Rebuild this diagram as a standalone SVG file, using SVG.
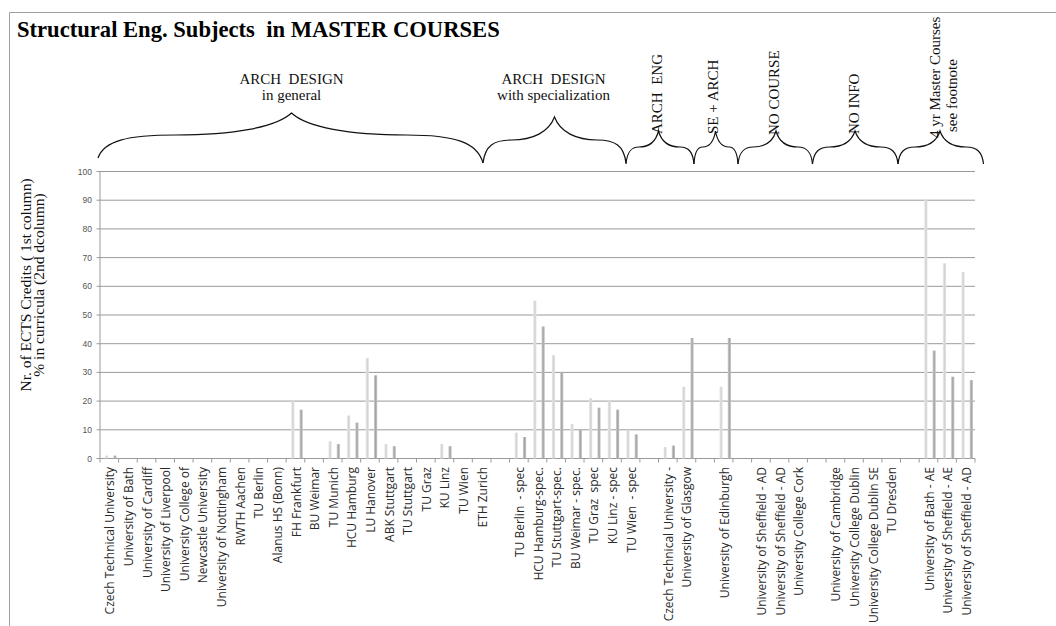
<svg xmlns="http://www.w3.org/2000/svg" width="1056" height="626" viewBox="0 0 1056 626">
<defs>
<linearGradient id="gA" x1="0" y1="0" x2="1" y2="0">
<stop offset="0" stop-color="#eeeeee"/><stop offset="0.5" stop-color="#d2d2d2"/><stop offset="1" stop-color="#e4e4e4"/>
</linearGradient>
<linearGradient id="gB" x1="0" y1="0" x2="1" y2="0">
<stop offset="0" stop-color="#d4d4d4"/><stop offset="0.5" stop-color="#a4a4a4"/><stop offset="1" stop-color="#c4c4c4"/>
</linearGradient>
</defs>
<style>
.title{font-family:"Liberation Serif","Times New Roman",serif;font-weight:bold;font-size:22.6px;fill:#000;white-space:pre}
.grp{font-family:"Liberation Serif","Times New Roman",serif;font-size:15px;fill:#111}
.yt{font-family:"Liberation Serif","Times New Roman",serif;font-size:15.5px;fill:#111}
.tick{font-family:"Liberation Sans",Arial,sans-serif;font-size:8.5px;fill:#555}
.xl{font-family:"Open Sans","Liberation Sans",sans-serif;font-size:12px;fill:#2a2a2a;white-space:pre}
.grid{stroke:#9a9a9a;stroke-width:1;fill:none}
.brace{stroke:#111;stroke-width:1.2;fill:none}
.b1{fill:url(#gA)}
.b2{fill:url(#gB)}
</style>
<rect x="0" y="0" width="1056" height="626" fill="#fff"/>
<path d="M9.5 626 V12.5 H1056" stroke="#a0a0a0" stroke-width="1" fill="none"/>
<text class="title" x="17" y="36.5">Structural Eng. Subjects  in MASTER COURSES</text>

<g id="connectors">
<path class="brace" d="M98 158 C103.8 140.8 127 135 175.4 135 C233.5 135 276 127.3 291.5 113 C306.8 127.3 349 135 406.4 135 C454.3 135 477.3 142 483 163"/>
<path class="brace" d="M483 163 C485.1 145.75 493.7 140 511.6 140 C533 140 548.8 132 554.5 117 C560.2 132 576 140 597.4 140 C615.3 140 623.9 145.75 626 163"/>
<path class="brace" d="M626 164 C627 152 630.9 147 639 147 C648.8 147 655.9 141.4 658.5 131 C661.3 141.4 669.2 147 679.8 147 C688.7 147 692.9 152 694 164"/>
<path class="brace" d="M694 164 C694.6 152 697.2 147 702.6 147 C709 147 713.8 141.4 715.5 131 C717.3 141.4 722.25 147 729 147 C734.6 147 737.3 152 738 164"/>
<path class="brace" d="M738 164 C739.1 152 743.7 147 753.2 147 C764.6 147 773 141.4 776 131 C778.9 141.4 786.95 147 797.9 147 C807 147 811.4 152 812.5 164"/>
<path class="brace" d="M812.5 164 C813.8 152 818.9 147 829.5 147 C842.25 147 851.6 141.4 855 131 C858.4 141.4 867.9 147 880.8 147 C891.55 147 896.7 152 898 164"/>
<path class="brace" d="M898 164 C899.3 152 904.3 147 914.8 147 C927.4 147 936.6 141.4 940 131 C943.5 141.4 953.05 147 966.1 147 C977 147 982.2 152 983.5 164"/>
</g>

<g id="group-arch-general">
<text class="grp" x="291.5" y="83.5" text-anchor="middle" style="white-space:pre">ARCH  DESIGN</text>
<text class="grp" x="291.5" y="100" text-anchor="middle">in general</text>
</g>
<g id="group-arch-spec">
<text class="grp" x="553.5" y="83.5" text-anchor="middle" style="white-space:pre">ARCH  DESIGN</text>
<text class="grp" x="553.5" y="100" text-anchor="middle">with specialization</text>
</g>
<g id="group-arch-eng"><text class="grp" transform="translate(661.5,134) rotate(-90)" style="white-space:pre">ARCH  ENG</text></g>
<g id="group-se-arch"><text class="grp" transform="translate(718,134) rotate(-90)">SE + ARCH</text></g>
<g id="group-no-course"><text class="grp" transform="translate(779,135) rotate(-90)">NO COURSE</text></g>
<g id="group-no-info"><text class="grp" transform="translate(859,134) rotate(-90)">NO INFO</text></g>
<g id="group-4yr">
<text class="grp" transform="translate(939.5,138) rotate(-90)">4 yr Master Courses</text>
<text class="grp" transform="translate(957,132) rotate(-90)">see footnote</text>
</g>

<g id="yaxis-title">
<text class="yt" transform="translate(31,285) rotate(-90)" text-anchor="middle">Nr. of ECTS Credits ( 1st column)</text>
<text class="yt" transform="translate(43.5,285) rotate(-90)" text-anchor="middle">% in curricula (2nd dcolumn)</text>
</g>

<g id="grid">
<path class="grid" d="M100 171.5H975 M100 200.2H975 M100 228.9H975 M100 257.6H975 M100 286.3H975 M100 315H975 M100 343.7H975 M100 372.4H975 M100 401.1H975 M100 429.8H975 M100 458.5H975"/>
<path class="grid" d="M100 171.5V458.5 M96.5 171.5H100 M96.5 200.2H100 M96.5 228.9H100 M96.5 257.6H100 M96.5 286.3H100 M96.5 315H100 M96.5 343.7H100 M96.5 372.4H100 M96.5 401.1H100 M96.5 429.8H100 M96.5 458.5H100"/>
<path class="grid" d="M100 458.5v4 M118.62 458.5v4 M137.23 458.5v4 M155.85 458.5v4 M174.47 458.5v4 M193.09 458.5v4 M211.7 458.5v4 M230.32 458.5v4 M248.94 458.5v4 M267.55 458.5v4 M286.17 458.5v4 M304.79 458.5v4 M323.4 458.5v4 M342.02 458.5v4 M360.64 458.5v4 M379.26 458.5v4 M397.87 458.5v4 M416.49 458.5v4 M435.11 458.5v4 M453.72 458.5v4 M472.34 458.5v4 M490.96 458.5v4 M509.57 458.5v4 M528.19 458.5v4 M546.81 458.5v4 M565.43 458.5v4 M584.04 458.5v4 M602.66 458.5v4 M621.28 458.5v4 M639.89 458.5v4 M658.51 458.5v4 M677.13 458.5v4 M695.74 458.5v4 M714.36 458.5v4 M732.98 458.5v4 M751.6 458.5v4 M770.21 458.5v4 M788.83 458.5v4 M807.45 458.5v4 M826.06 458.5v4 M844.68 458.5v4 M863.3 458.5v4 M881.91 458.5v4 M900.53 458.5v4 M919.15 458.5v4 M937.77 458.5v4 M956.38 458.5v4 M975 458.5v4"/>
</g>

<g id="ytick-labels" text-anchor="end">
<text class="tick" x="92" y="174.5">100</text>
<text class="tick" x="92" y="203.2">90</text>
<text class="tick" x="92" y="231.9">80</text>
<text class="tick" x="92" y="260.6">70</text>
<text class="tick" x="92" y="289.3">60</text>
<text class="tick" x="92" y="318">50</text>
<text class="tick" x="92" y="346.7">40</text>
<text class="tick" x="92" y="375.4">30</text>
<text class="tick" x="92" y="404.1">20</text>
<text class="tick" x="92" y="432.8">10</text>
<text class="tick" x="92" y="461.5">0</text>
</g>

<g id="bars">
<rect class="b1" x="105" y="455.6" width="3.2" height="2.9"/><rect class="b2" x="113.3" y="455.6" width="3.2" height="2.9"/>
<rect class="b1" x="291.2" y="401.1" width="3.2" height="57.4"/><rect class="b2" x="299.5" y="409.7" width="3.2" height="48.8"/>
<rect class="b1" x="328.4" y="441.3" width="3.2" height="17.2"/><rect class="b2" x="336.7" y="444.15" width="3.2" height="14.35"/>
<rect class="b1" x="347" y="415.45" width="3.2" height="43.05"/><rect class="b2" x="355.3" y="422.6" width="3.2" height="35.9"/>
<rect class="b1" x="365.65" y="358.05" width="3.2" height="100.45"/><rect class="b2" x="373.95" y="375.3" width="3.2" height="83.2"/>
<rect class="b1" x="384.3" y="444.15" width="3.2" height="14.35"/><rect class="b2" x="392.6" y="446.2" width="3.2" height="12.3"/>
<rect class="b1" x="440.1" y="444.15" width="3.2" height="14.35"/><rect class="b2" x="448.4" y="446.2" width="3.2" height="12.3"/>
<rect class="b1" x="514.6" y="432.7" width="3.2" height="25.8"/><rect class="b2" x="522.9" y="437" width="3.2" height="21.5"/>
<rect class="b1" x="533.2" y="300.65" width="3.2" height="157.85"/><rect class="b2" x="541.5" y="326.5" width="3.2" height="132"/>
<rect class="b1" x="551.8" y="355.2" width="3.2" height="103.3"/><rect class="b2" x="560.1" y="372.4" width="3.2" height="86.1"/>
<rect class="b1" x="570.4" y="424.1" width="3.2" height="34.4"/><rect class="b2" x="578.7" y="429.8" width="3.2" height="28.7"/>
<rect class="b1" x="589.05" y="398.2" width="3.2" height="60.3"/><rect class="b2" x="597.35" y="407.7" width="3.2" height="50.8"/>
<rect class="b1" x="607.7" y="401.1" width="3.2" height="57.4"/><rect class="b2" x="616" y="409.7" width="3.2" height="48.8"/>
<rect class="b1" x="626.3" y="429.8" width="3.2" height="28.7"/><rect class="b2" x="634.6" y="434.4" width="3.2" height="24.1"/>
<rect class="b1" x="663.5" y="447" width="3.2" height="11.5"/><rect class="b2" x="671.8" y="445.6" width="3.2" height="12.9"/>
<rect class="b1" x="682.1" y="386.75" width="3.2" height="71.75"/><rect class="b2" x="690.4" y="338" width="3.2" height="120.5"/>
<rect class="b1" x="719.4" y="386.75" width="3.2" height="71.75"/><rect class="b2" x="727.7" y="338" width="3.2" height="120.5"/>
<rect class="b1" x="924.2" y="200.2" width="3.2" height="258.3"/><rect class="b2" x="932.5" y="350.6" width="3.2" height="107.9"/>
<rect class="b1" x="942.8" y="263.3" width="3.2" height="195.2"/><rect class="b2" x="951.1" y="376.7" width="3.2" height="81.8"/>
<rect class="b1" x="961.4" y="271.95" width="3.2" height="186.55"/><rect class="b2" x="969.7" y="380.15" width="3.2" height="78.35"/>
</g>

<g id="xlabels" text-anchor="end">
<text class="xl" transform="translate(114.3,467) rotate(-90)">Czech Technical University</text>
<text class="xl" transform="translate(132.9,467) rotate(-90)">University of Bath</text>
<text class="xl" transform="translate(151.5,467) rotate(-90)">University of Cardiff</text>
<text class="xl" transform="translate(170.2,467) rotate(-90)">University of Liverpool</text>
<text class="xl" transform="translate(188.8,467) rotate(-90)">University College of</text>
<text class="xl" transform="translate(207.4,467) rotate(-90)">Newcastle University</text>
<text class="xl" transform="translate(226,467) rotate(-90)">University of Nottingham</text>
<text class="xl" transform="translate(244.6,467) rotate(-90)">RWTH Aachen</text>
<text class="xl" transform="translate(263.2,467) rotate(-90)">TU Berlin</text>
<text class="xl" transform="translate(281.9,467) rotate(-90)">Alanus HS (Bonn)</text>
<text class="xl" transform="translate(300.5,467) rotate(-90)">FH Frankfurt</text>
<text class="xl" transform="translate(319.1,467) rotate(-90)">BU Weimar</text>
<text class="xl" transform="translate(337.7,467) rotate(-90)">TU Munich</text>
<text class="xl" transform="translate(356.3,467) rotate(-90)">HCU Hamburg</text>
<text class="xl" transform="translate(375,467) rotate(-90)">LU Hanover</text>
<text class="xl" transform="translate(393.6,467) rotate(-90)">ABK Stuttgart</text>
<text class="xl" transform="translate(412.2,467) rotate(-90)">TU Stuttgart</text>
<text class="xl" transform="translate(430.8,467) rotate(-90)">TU Graz</text>
<text class="xl" transform="translate(449.4,467) rotate(-90)">KU Linz</text>
<text class="xl" transform="translate(468,467) rotate(-90)">TU Wien</text>
<text class="xl" transform="translate(486.7,467) rotate(-90)">ETH Zurich</text>
<text class="xl" transform="translate(523.9,467) rotate(-90)">TU Berlin  - spec</text>
<text class="xl" transform="translate(542.5,467) rotate(-90)">HCU Hamburg-spec.</text>
<text class="xl" transform="translate(561.1,467) rotate(-90)">TU Stuttgart-spec.</text>
<text class="xl" transform="translate(579.7,467) rotate(-90)">BU Weimar - spec.</text>
<text class="xl" transform="translate(598.4,467) rotate(-90)">TU Graz  spec</text>
<text class="xl" transform="translate(617,467) rotate(-90)">KU Linz - spec</text>
<text class="xl" transform="translate(635.6,467) rotate(-90)">TU Wien  - spec</text>
<text class="xl" transform="translate(672.8,467) rotate(-90)">Czech Technical University -</text>
<text class="xl" transform="translate(691.4,467) rotate(-90)">University of Glasgow</text>
<text class="xl" transform="translate(728.7,467) rotate(-90)">University of Edinburgh</text>
<text class="xl" transform="translate(765.9,467) rotate(-90)">University of Sheffield - AD</text>
<text class="xl" transform="translate(784.5,467) rotate(-90)">University of Sheffield - AD</text>
<text class="xl" transform="translate(803.1,467) rotate(-90)">University College Cork</text>
<text class="xl" transform="translate(840.4,467) rotate(-90)">University of Cambridge</text>
<text class="xl" transform="translate(859,467) rotate(-90)">University College Dublin</text>
<text class="xl" transform="translate(877.6,467) rotate(-90)">University College Dublin SE</text>
<text class="xl" transform="translate(896.2,467) rotate(-90)">TU Dresden</text>
<text class="xl" transform="translate(933.5,467) rotate(-90)">University of Bath - AE</text>
<text class="xl" transform="translate(952.1,467) rotate(-90)">University of Sheffield - AE</text>
<text class="xl" transform="translate(970.7,467) rotate(-90)">University of Sheffield - AD</text>
</g>
</svg>
